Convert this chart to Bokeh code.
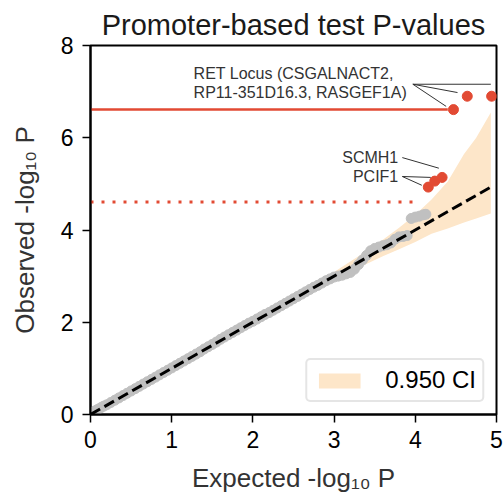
from bokeh.plotting import figure
from bokeh.models import Range1d, FixedTicker, Legend, LegendItem, Label
from bokeh.embed import file_html
from bokeh.resources import INLINE

# ---- data ----
gray_x = [0.0, 0.02, 0.04, 0.06, 0.08, 0.1, 0.13, 0.16, 0.2, 0.25, 0.3, 0.35, 0.4,
          0.45, 0.5, 0.55, 0.6, 0.65, 0.7, 0.75, 0.8, 0.85, 0.9, 0.95, 1.0, 1.05,
          1.1, 1.15, 1.2, 1.25, 1.3, 1.35, 1.4, 1.45, 1.5, 1.55, 1.6, 1.65, 1.7,
          1.75, 1.8, 1.85, 1.9, 1.95, 2.0, 2.05, 2.1, 2.15, 2.2, 2.25, 2.3, 2.35,
          2.4, 2.45, 2.5, 2.55, 2.6, 2.65, 2.7, 2.75, 2.8, 2.85, 2.9, 2.95, 3.0,
          3.05, 3.1, 3.15, 3.2, 3.25, 3.3, 3.35, 3.4, 3.45, 3.5, 3.55, 3.6, 3.65,
          3.7, 3.75, 3.8, 3.85, 3.9, 3.95, 4.0, 4.05, 4.1, 4.13]
gray_y = [0.02, 0.04, 0.06, 0.08, 0.1, 0.12, 0.15, 0.18, 0.21, 0.26, 0.31, 0.36,
          0.41, 0.46, 0.51, 0.56, 0.61, 0.66, 0.71, 0.76, 0.81, 0.86, 0.91, 0.96,
          1.01, 1.06, 1.11, 1.16, 1.21, 1.26, 1.31, 1.36, 1.42, 1.47, 1.52, 1.57,
          1.63, 1.68, 1.73, 1.78, 1.83, 1.88, 1.93, 1.98, 2.02, 2.07, 2.12, 2.17,
          2.21, 2.26, 2.31, 2.36, 2.41, 2.46, 2.51, 2.56, 2.61, 2.66, 2.71, 2.76,
          2.8, 2.85, 2.9, 2.94, 2.98, 3.0, 3.02, 3.05, 3.08, 3.15, 3.25, 3.35,
          3.45, 3.55, 3.6, 3.63, 3.66, 3.68, 3.72, 3.8, 3.85, 3.86, 3.88, 4.25,
          4.28, 4.3, 4.33, 4.34]

ret_x = [4.47, 4.64, 4.94]
ret_y = [6.61, 6.90, 6.90]
sig_x = [4.16, 4.24, 4.33]
sig_y = [4.93, 5.06, 5.14]

ci_x = [2.5, 3.0, 3.3, 3.6, 3.8, 4.0, 4.2, 4.4, 4.6, 4.75, 4.93]
ci_lo = [2.45, 2.91, 3.18, 3.43, 3.58, 3.74, 3.92, 4.03, 4.16, 4.25, 4.36]
ci_hi = [2.55, 3.09, 3.43, 3.79, 4.05, 4.33, 4.66, 5.05, 5.65, 6.0, 6.55]

null_x = [0.0, 4.93]
null_y = [0.0, 4.93]

sig_line_y = 6.61
sig_line_x = [0.0, 4.40]
sug_line_y = 4.605
sug_line_x = [0.0, 3.98]

x_ticks = [0, 1, 2, 3, 4, 5]
y_ticks = [0, 2, 4, 6, 8]

FONT = "Liberation Sans"
RED = "#e24a33"
GRAY = "#c0c0c0"
CI = "#fde6c9"

p = figure(width=504, height=496, output_backend="svg", toolbar_location=None,
           x_range=Range1d(0, 5), y_range=Range1d(0, 8),
           min_border_left=90, min_border_right=8, min_border_top=45,
           min_border_bottom=82, title="Promoter-based test P-values")
p.grid.visible = False
p.background_fill_color = "white"
p.border_fill_color = "white"
p.outline_line_color = "black"
p.outline_line_width = 2
p.outline_line_alpha = 1

p.title.text_font = FONT
p.title.text_font_size = "29px"
p.title.text_font_style = "normal"
p.title.text_color = "#1a1a1a"
p.title.align = "center"
p.title.standoff = 10

for ax, ticks in ((p.xaxis, x_ticks), (p.yaxis, y_ticks)):
    ax.ticker = FixedTicker(ticks=ticks)
    ax.minor_tick_line_color = None
    ax.major_tick_out = 8
    ax.major_tick_in = 0
    ax.major_tick_line_width = 1.5
    ax.axis_line_width = 2
    ax.major_label_text_font = FONT
    ax.major_label_text_font_size = "23px"
    ax.major_label_text_color = "black"
    ax.axis_label_text_font = FONT
    ax.axis_label_text_font_size = "26px"
    ax.axis_label_text_font_style = "normal"
    ax.axis_label_text_color = "#333333"

p.xaxis.axis_label = "Expected -log₁₀ P"
p.yaxis.axis_label = "Observed -log₁₀ P"
p.xaxis.major_label_standoff = 8
p.yaxis.major_label_standoff = 9
p.xaxis.axis_label_standoff = 12
p.yaxis.axis_label_standoff = 18

band = p.varea(x=ci_x, y1=ci_lo, y2=ci_hi, fill_color=CI, fill_alpha=1)

p.scatter(gray_x, gray_y, size=10, fill_color=GRAY, line_color=GRAY)

p.line(sig_line_x, [sig_line_y, sig_line_y], line_color=RED, line_width=2.5)
p.line(sug_line_x, [sug_line_y, sug_line_y], line_color=RED, line_width=3,
       line_dash="3 8")

p.line(null_x, null_y, line_color="black", line_width=3, line_dash="11 5")

p.scatter(ret_x, ret_y, size=10, fill_color=RED, line_color=RED)
p.scatter(sig_x, sig_y, size=10, fill_color=RED, line_color=RED)

# annotation leader lines
p.segment(x0=[3.97, 3.97, 3.97], y0=[7.16, 7.16, 7.16],
          x1=[4.93, 4.52, 4.38], y1=[7.16, 6.98, 6.68],
          line_color="#333333", line_width=1)
p.segment(x0=[3.84, 3.84, 3.84], y0=[5.57, 5.16, 5.16],
          x1=[4.29, 4.19, 4.08], y1=[5.34, 5.14, 4.97],
          line_color="#333333", line_width=1)

for txt, x, y, align in (("RET Locus (CSGALNACT2,", 1.27, 7.40, "left"),
                         ("RP11-351D16.3, RASGEF1A)", 1.27, 6.98, "left"),
                         ("SCMH1", 3.79, 5.57, "right"),
                         ("PCIF1", 3.79, 5.16, "right")):
    p.add_layout(Label(x=x, y=y, text=txt, text_font=FONT, text_font_size="16px",
                       text_color="#333333", text_align=align,
                       text_baseline="middle"))

legend = Legend(items=[LegendItem(label="0.950 CI", renderers=[band])],
                location="bottom_right")
legend.label_text_font = FONT
legend.label_text_font_size = "24px"
legend.label_text_color = "black"
legend.glyph_width = 52
legend.glyph_height = 19
legend.label_standoff = 20
legend.padding = 6
legend.margin = 12
legend.border_line_color = "#cccccc"
legend.border_line_width = 2
legend.border_radius = 5
legend.background_fill_alpha = 1
p.add_layout(legend)

open("out.html", "w").write(file_html(p, INLINE))
